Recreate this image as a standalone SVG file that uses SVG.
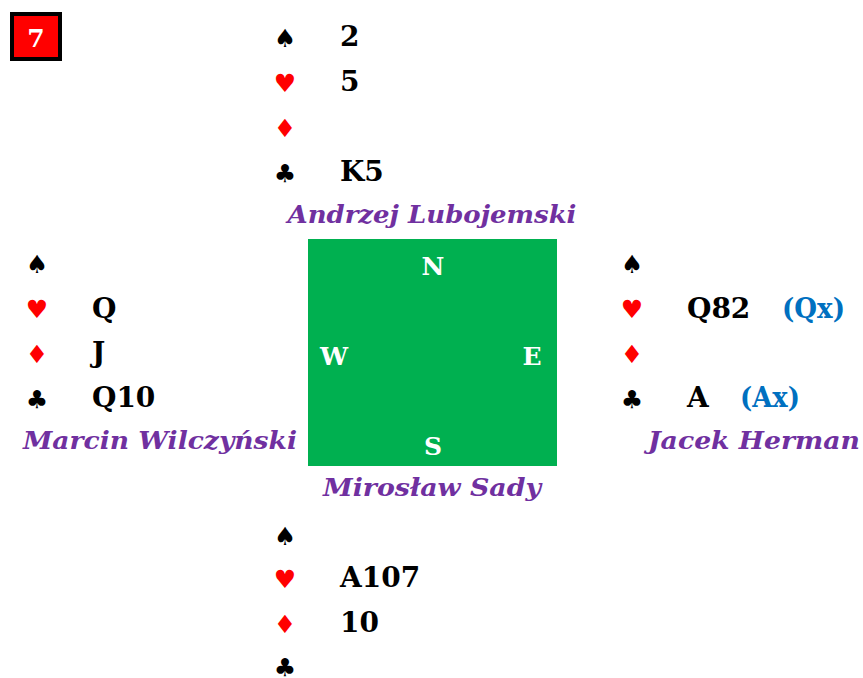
<svg xmlns="http://www.w3.org/2000/svg" width="863" height="678" viewBox="0 0 863 678">
<style>
.s{font-family:"DejaVu Sans",sans-serif;font-size:25px;text-anchor:middle}
.k{fill:#000}.r{fill:#FF0000}
.c{font-family:"DejaVu Serif","Liberation Serif",serif;font-weight:bold;font-size:28px;fill:#000}
.b{fill:#0070C0}
.n{font-family:"DejaVu Serif","Liberation Serif",serif;font-weight:bold;font-style:italic;font-size:25px;fill:#7030A0;text-anchor:middle}
.d{font-family:"DejaVu Serif","Liberation Serif",serif;font-weight:bold;font-size:25px;fill:#fff;text-anchor:middle}
</style>
<rect width="863" height="678" fill="#fff"/>
<g id="board">
<rect x="12" y="14" width="48" height="45" fill="#FF0000" stroke="#000" stroke-width="4"/>
<text x="36" y="47" class="d" font-size="29">7</text>
</g>
<g id="north">
<text x="285" y="47" class="s k">♠</text>
<text x="285" y="92" class="s r">♥</text>
<text x="285" y="137" class="s r">♦</text>
<text x="285" y="182" class="s k">♣</text>
<text x="340" y="46" class="c">2</text>
<text x="340" y="91" class="c">5</text>
<text x="340" y="181" class="c">K5</text>
<text x="432" y="223" class="n" textLength="289" lengthAdjust="spacingAndGlyphs">Andrzej Lubojemski</text>
</g>
<g id="table">
<rect x="308" y="239" width="249" height="227" fill="#00B050"/>
<text x="433" y="275" class="d">N</text>
<text x="334" y="365" class="d">W</text>
<text x="532" y="365" class="d">E</text>
<text x="433" y="455" class="d">S</text>
</g>
<g id="west">
<text x="37" y="273" class="s k">♠</text>
<text x="37" y="318" class="s r">♥</text>
<text x="37" y="363" class="s r">♦</text>
<text x="37" y="408" class="s k">♣</text>
<text x="92" y="318" class="c">Q</text>
<text x="92" y="362" class="c">J</text>
<text x="92" y="407" class="c">Q10</text>
<text x="160" y="449" class="n" textLength="274" lengthAdjust="spacingAndGlyphs">Marcin Wilczyński</text>
</g>
<g id="east">
<text x="632" y="273" class="s k">♠</text>
<text x="632" y="318" class="s r">♥</text>
<text x="632" y="363" class="s r">♦</text>
<text x="632" y="408" class="s k">♣</text>
<text x="687" y="318" class="c">Q82</text>
<text x="782" y="318" class="c b" font-size="26" textLength="63" lengthAdjust="spacingAndGlyphs">(Qx)</text>
<text x="687" y="407" class="c">A</text>
<text x="740" y="407" class="c b" font-size="26" textLength="60" lengthAdjust="spacingAndGlyphs">(Ax)</text>
<text x="754" y="449" class="n" textLength="212" lengthAdjust="spacingAndGlyphs">Jacek Herman</text>
</g>
<g id="south">
<text x="432" y="496" class="n" textLength="218" lengthAdjust="spacingAndGlyphs">Mirosław Sady</text>
<text x="285" y="545" class="s k">♠</text>
<text x="285" y="588" class="s r">♥</text>
<text x="285" y="633" class="s r">♦</text>
<text x="285" y="676" class="s k">♣</text>
<text x="340" y="587" class="c">A107</text>
<text x="340" y="632" class="c">10</text>
</g>
<g id="connectors"/>
</svg>
